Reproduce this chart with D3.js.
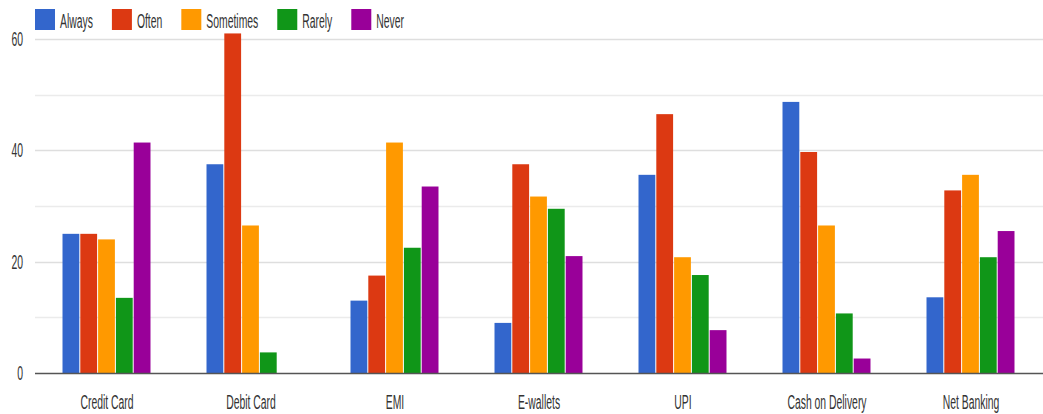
<!DOCTYPE html>
<html><head><meta charset="utf-8">
<script src="https://cdn.jsdelivr.net/npm/d3@7"></script>
<style>html,body{margin:0;padding:0;background:#fff;}svg{display:block;}</style>
</head><body>
<svg id="chart" width="1043" height="414"></svg>
<script>
const categories = ["Credit Card","Debit Card","EMI","E-wallets","UPI","Cash on Delivery","Net Banking"];
const seriesNames = ["Always","Often","Sometimes","Rarely","Never"];
const always    = [25, 37.5, 13, 9, 35.6, 48.7, 13.6];
const often     = [25, 61, 17.5, 37.5, 46.5, 39.7, 32.8];
const sometimes = [24, 26.5, 41.4, 31.7, 20.8, 26.5, 35.6];
const rarely    = [13.5, 3.7, 22.5, 29.5, 17.6, 10.7, 20.8];
const never     = [41.4, 0, 33.5, 21, 7.7, 2.6, 25.5];
const colors = ["#3366cc","#dc3912","#ff9900","#109618","#990099"];
const gridTicks = [0,10,20,30,40,50,60];
const labelTicks = [0,20,40,60];

(function(){
const seriesValues = [always, often, sometimes, rarely, never];
const svg = d3.select("#chart");
const mLeft = 35, mRight = 1043, mTop = 39, mBottom = 373;
const SX = 0.8, SY = 1.55, FS = 13;
const font = "'Liberation Sans', Arial, sans-serif";

const y = d3.scaleLinear().domain([0,60]).range([mBottom, mTop]);
const x0 = d3.scaleBand().domain(categories).range([mLeft, mRight]).paddingInner(0.382).paddingOuter(0.191);
const x1 = d3.scaleBand().domain(seriesNames).range([0, x0.bandwidth()]).padding(0);

function stext(g, str, tx, ty, anchor){
  return g.append("text")
    .attr("transform", `translate(${tx},${ty}) scale(${SX},${SY})`)
    .attr("text-anchor", anchor)
    .attr("font-family", font).attr("font-size", FS)
    .attr("fill", "#333").text(str);
}

// gridlines
svg.append("g").selectAll("line").data(gridTicks.filter(d=>d>0)).join("line")
  .attr("x1", mLeft).attr("x2", mRight)
  .attr("y1", d=>Math.round(y(d))+0.5).attr("y2", d=>Math.round(y(d))+0.5)
  .attr("stroke", d => d % 20 === 0 ? "#dedede" : "#ebebeb").attr("stroke-width", 1.5);

// y labels
const yl = svg.append("g");
labelTicks.forEach(t => stext(yl, String(t), 23, y(t)+7, "end"));

// bars
const bars = svg.append("g");
categories.forEach((c, i) => {
  seriesNames.forEach((s, j) => {
    const v = seriesValues[j][i];
    if (v <= 0) return;
    bars.append("rect")
      .attr("x", x0(c) + x1(s))
      .attr("y", y(v))
      .attr("width", x1.bandwidth() - 1)
      .attr("height", y(0) - y(v))
      .attr("fill", colors[j]);
  });
});

// baseline
svg.append("line").attr("x1", mLeft).attr("x2", mRight)
  .attr("y1", y(0)+0.5).attr("y2", y(0)+0.5)
  .attr("stroke", "#555").attr("stroke-width", 1.5);

// x labels
const xl = svg.append("g");
categories.forEach(c => stext(xl, c, x0(c) + x0.bandwidth()/2, 409, "middle"));

// legend
const lg = svg.append("g");
let lx = 35;
seriesNames.forEach((s, j) => {
  lg.append("rect").attr("x", lx).attr("y", 9).attr("width", 20).attr("height", 21).attr("fill", colors[j]);
  const t = stext(lg, s, lx + 25, 28, "start");
  const w = t.node().getComputedTextLength() * SX;
  lx += 25 + w + 19;
});
})();
</script>
</body></html>
